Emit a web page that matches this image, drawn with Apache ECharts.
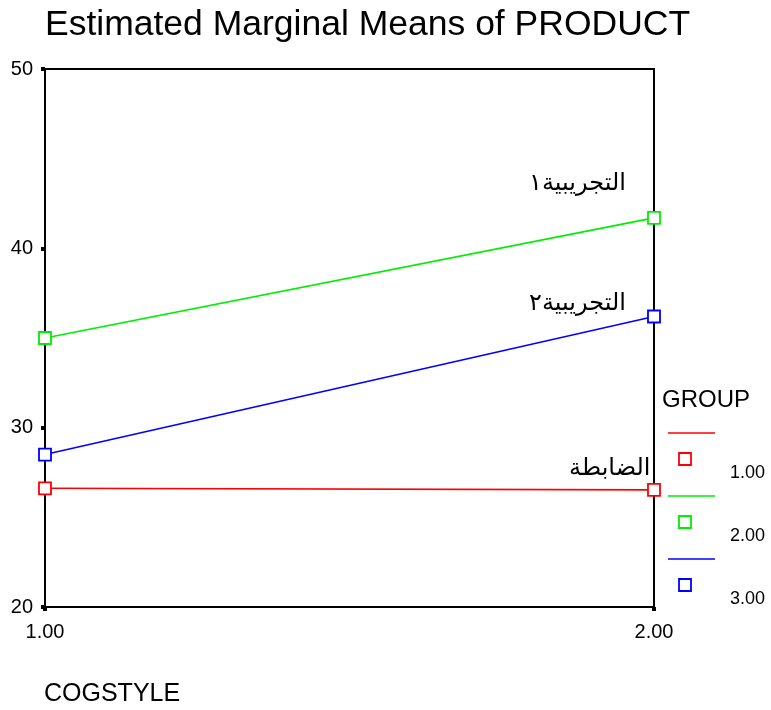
<!DOCTYPE html>
<html><head><meta charset="utf-8">
<script src="https://cdn.jsdelivr.net/npm/echarts@6/dist/echarts.min.js"></script>
<style>html,body{margin:0;padding:0;background:#fff}#c{width:771px;height:710px}</style>
</head><body><div id="c"></div>
<script>
var cogstyle = [1, 2];
var group1 = [26.62, 26.53];
var group2 = [35.0, 41.7];
var group3 = [28.5, 36.2];
var groupNames = ['1.00', '2.00', '3.00'];
var endLabels = ['الضابطة', 'التجريبية١', 'التجريبية٢'];
var yTicks = [20, 30, 40, 50];

var colors = ['#ff0000', '#00ee00', '#0000ff'];
var FONT = 'Arial, "Liberation Sans", "DejaVu Sans", sans-serif';
var chart = echarts.init(document.getElementById('c'));
var seriesVals = [group1, group2, group3];
var labelOffsets = [[-78, -27], [-118, -40], [-118, -18]];

var series = seriesVals.map(function (vals, i) {
  return {
    type: 'line',
    name: groupNames[i],
    data: vals.map(function (v, j) {
      var d = { value: [cogstyle[j], v] };
      if (j === vals.length - 1) {
        d.label = {
          show: true, formatter: endLabels[i], position: labelOffsets[i],
          color: '#000', fontSize: 24, fontFamily: FONT
        };
      }
      return d;
    }),
    symbol: 'rect', symbolSize: 12, showSymbol: true,
    lineStyle: { color: colors[i], width: 1.6 },
    itemStyle: { color: '#fff', borderColor: colors[i], borderWidth: 1.8 },
    emphasis: { disabled: true },
    animation: false, z: 3
  };
});

var legendGraphics = [{
  type: 'text', left: 662, top: 388,
  style: { text: 'GROUP', fontSize: 24, fontFamily: FONT, fill: '#000' }
}];
groupNames.forEach(function (n, i) {
  var y0 = 433 + i * 63;
  legendGraphics.push({
    type: 'line', shape: { x1: 668, y1: y0, x2: 715, y2: y0 },
    style: { stroke: colors[i], lineWidth: 1.6 }
  });
  legendGraphics.push({
    type: 'rect', shape: { x: 679, y: y0 + 20, width: 12, height: 12 },
    style: { fill: '#fff', stroke: colors[i], lineWidth: 1.8 }
  });
  legendGraphics.push({
    type: 'text', left: 730, top: y0 + 31,
    style: { text: n, fontSize: 18, fontFamily: FONT, fill: '#000' }
  });
});
legendGraphics.push({
  type: 'text', left: 44, top: 682,
  style: { text: 'COGSTYLE', fontSize: 25, fontFamily: FONT, fill: '#000' }
});

chart.setOption({
  animation: false,
  backgroundColor: '#fff',
  title: {
    text: 'Estimated Marginal Means of PRODUCT', left: 40, top: 2,
    textStyle: { fontSize: 35.5, fontWeight: 'normal', color: '#000', fontFamily: FONT }
  },
  grid: { left: 45, right: 117, top: 69, bottom: 103, show: true, borderColor: '#000', borderWidth: 2, backgroundColor: 'transparent' },
  xAxis: {
    type: 'value', min: 1, max: 2, interval: 1,
    axisLine: { lineStyle: { color: '#000', width: 2 } },
    axisTick: { show: true, length: 4, lineStyle: { color: '#000', width: 4 } },
    axisLabel: { color: '#000', fontSize: 20, fontFamily: FONT, margin: 15,
      formatter: function (v) { return v.toFixed(2); } },
    splitLine: { show: false }
  },
  yAxis: {
    type: 'value', min: yTicks[0], max: yTicks[yTicks.length - 1], interval: 10,
    axisLine: { lineStyle: { color: '#000', width: 2 } },
    axisTick: { show: true, length: 4, lineStyle: { color: '#000', width: 4 } },
    axisLabel: { color: '#000', fontSize: 20, fontFamily: FONT, margin: 12 },
    splitLine: { show: false }
  },
  series: series,
  graphic: legendGraphics
});
</script></body></html>
